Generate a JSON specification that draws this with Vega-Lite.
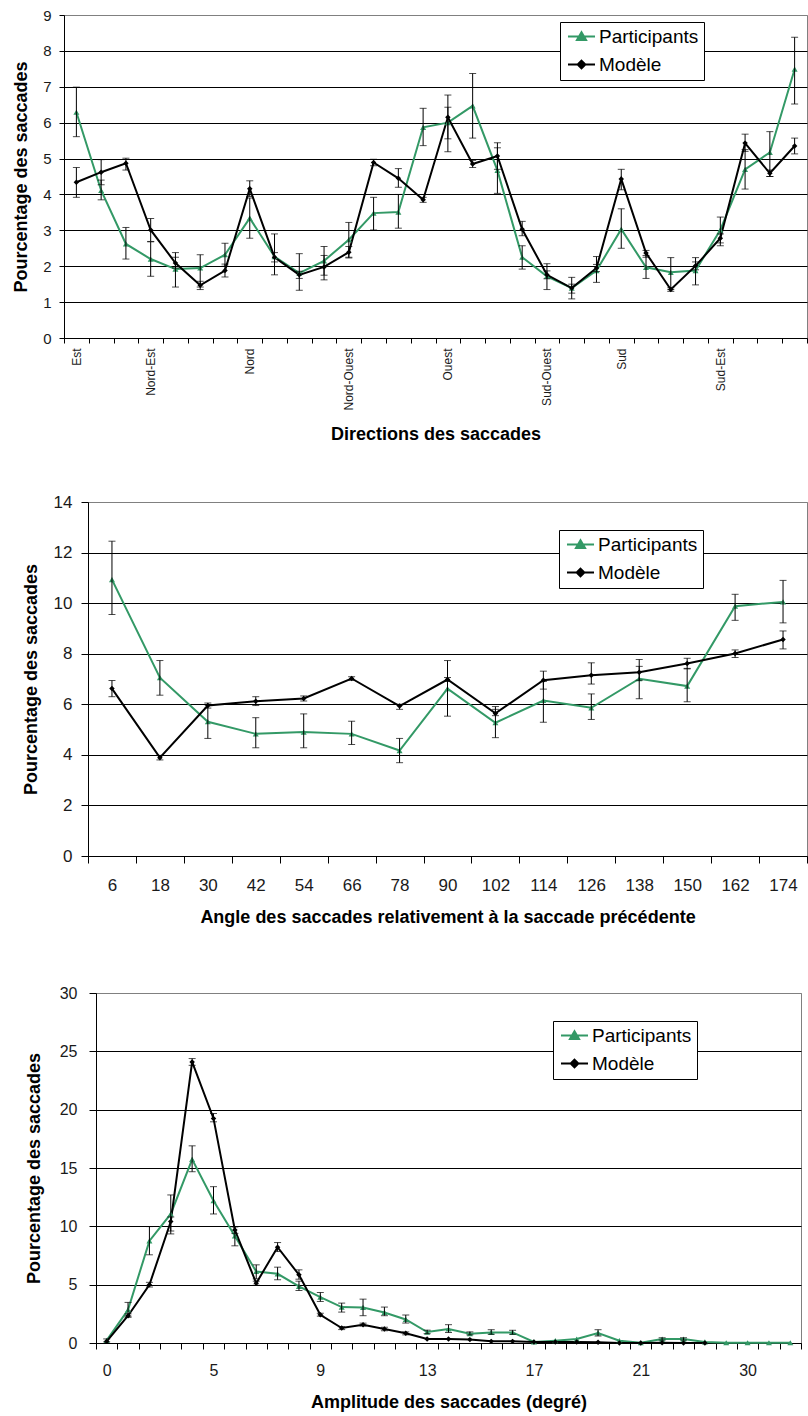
{
  "$schema": "https://vega.github.io/schema/vega-lite/v6.json",
  "padding": {"left": 0, "top": 7, "right": 0, "bottom": 0},
  "config": {
    "font": "Liberation Sans",
    "view": {"stroke": "#808080", "strokeWidth": 1},
    "axis": {"domainColor": "black", "tickColor": "black", "gridColor": "black", "gridOpacity": 1, "labelColor": "#1a1a1a", "titleColor": "black", "titleFontWeight": "bold", "titleFontSize": 18, "labelFont": "Liberation Sans", "titleFont": "Liberation Sans"},
    "axisX": {"grid": false},
    "legend": {"padding": 5, "strokeColor": "black", "fillColor": "white", "labelFontSize": 19, "labelFont": "Liberation Sans", "labelColor": "black", "symbolSize": 196, "labelOffset": 15, "rowPadding": 8, "symbolStrokeWidth": 2, "symbolOpacity": 1},
    "line": {"strokeWidth": 2},
    "tick": {"thickness": 1}
  },
  "datasets": {
    "dir": [
      {"i":1,"serie":"Participants","v":6.29,"lo":5.61,"hi":6.99},
      {"i":2,"serie":"Participants","v":4.11,"lo":3.85,"hi":4.40},
      {"i":3,"serie":"Participants","v":2.62,"lo":2.20,"hi":3.08},
      {"i":4,"serie":"Participants","v":2.20,"lo":1.72,"hi":2.68},
      {"i":5,"serie":"Participants","v":1.92,"lo":1.42,"hi":2.38},
      {"i":6,"serie":"Participants","v":1.95,"lo":1.42,"hi":2.32},
      {"i":7,"serie":"Participants","v":2.32,"lo":2.00,"hi":2.64},
      {"i":8,"serie":"Participants","v":3.34,"lo":2.78,"hi":3.90},
      {"i":9,"serie":"Participants","v":2.27,"lo":1.76,"hi":2.90},
      {"i":10,"serie":"Participants","v":1.81,"lo":1.33,"hi":2.35},
      {"i":11,"serie":"Participants","v":2.15,"lo":1.75,"hi":2.55},
      {"i":12,"serie":"Participants","v":2.74,"lo":2.25,"hi":3.22},
      {"i":13,"serie":"Participants","v":3.48,"lo":3.01,"hi":3.92},
      {"i":14,"serie":"Participants","v":3.51,"lo":3.06,"hi":4.00},
      {"i":15,"serie":"Participants","v":5.87,"lo":5.36,"hi":6.40},
      {"i":16,"serie":"Participants","v":6.00,"lo":5.19,"hi":6.43},
      {"i":17,"serie":"Participants","v":6.47,"lo":5.57,"hi":7.37},
      {"i":18,"serie":"Participants","v":4.67,"lo":4.03,"hi":5.30},
      {"i":19,"serie":"Participants","v":2.25,"lo":1.92,"hi":2.57},
      {"i":20,"serie":"Participants","v":1.72,"lo":1.35,"hi":2.07},
      {"i":21,"serie":"Participants","v":1.39,"lo":1.09,"hi":1.69},
      {"i":22,"serie":"Participants","v":1.88,"lo":1.55,"hi":2.27},
      {"i":23,"serie":"Participants","v":3.03,"lo":2.50,"hi":3.60},
      {"i":24,"serie":"Participants","v":1.97,"lo":1.66,"hi":2.30},
      {"i":25,"serie":"Participants","v":1.83,"lo":1.35,"hi":2.24},
      {"i":26,"serie":"Participants","v":1.88,"lo":1.48,"hi":2.24},
      {"i":27,"serie":"Participants","v":3.01,"lo":2.57,"hi":3.37},
      {"i":28,"serie":"Participants","v":4.70,"lo":4.15,"hi":5.25},
      {"i":29,"serie":"Participants","v":5.17,"lo":4.50,"hi":5.75},
      {"i":30,"serie":"Participants","v":7.49,"lo":6.52,"hi":8.38},
      {"i":1,"serie":"Modèle","v":4.34,"lo":3.92,"hi":4.75},
      {"i":2,"serie":"Modèle","v":4.62,"lo":4.27,"hi":4.97},
      {"i":3,"serie":"Modèle","v":4.87,"lo":4.68,"hi":5.01},
      {"i":4,"serie":"Modèle","v":3.01,"lo":2.69,"hi":3.33},
      {"i":5,"serie":"Modèle","v":2.09,"lo":1.95,"hi":2.25},
      {"i":6,"serie":"Modèle","v":1.47,"lo":1.35,"hi":1.58},
      {"i":7,"serie":"Modèle","v":1.88,"lo":1.70,"hi":2.06},
      {"i":8,"serie":"Modèle","v":4.16,"lo":3.94,"hi":4.38},
      {"i":9,"serie":"Modèle","v":2.25,"lo":2.12,"hi":2.38},
      {"i":10,"serie":"Modèle","v":1.76,"lo":1.66,"hi":1.86},
      {"i":11,"serie":"Modèle","v":1.98,"lo":1.62,"hi":2.30},
      {"i":12,"serie":"Modèle","v":2.39,"lo":2.23,"hi":2.55},
      {"i":13,"serie":"Modèle","v":4.89,"lo":4.80,"hi":4.98},
      {"i":14,"serie":"Modèle","v":4.45,"lo":4.20,"hi":4.72},
      {"i":15,"serie":"Modèle","v":3.85,"lo":3.78,"hi":3.92},
      {"i":16,"serie":"Modèle","v":6.15,"lo":5.55,"hi":6.77},
      {"i":17,"serie":"Modèle","v":4.85,"lo":4.75,"hi":4.95},
      {"i":18,"serie":"Modèle","v":5.07,"lo":4.70,"hi":5.44},
      {"i":19,"serie":"Modèle","v":3.03,"lo":2.85,"hi":3.25},
      {"i":20,"serie":"Modèle","v":1.76,"lo":1.65,"hi":1.87},
      {"i":21,"serie":"Modèle","v":1.39,"lo":1.25,"hi":1.50},
      {"i":22,"serie":"Modèle","v":1.95,"lo":1.85,"hi":2.05},
      {"i":23,"serie":"Modèle","v":4.43,"lo":4.13,"hi":4.70},
      {"i":24,"serie":"Modèle","v":2.37,"lo":2.25,"hi":2.44},
      {"i":25,"serie":"Modèle","v":1.35,"lo":1.30,"hi":1.40},
      {"i":26,"serie":"Modèle","v":2.01,"lo":1.90,"hi":2.12},
      {"i":27,"serie":"Modèle","v":2.78,"lo":2.65,"hi":2.90},
      {"i":28,"serie":"Modèle","v":5.43,"lo":5.20,"hi":5.68},
      {"i":29,"serie":"Modèle","v":4.59,"lo":4.50,"hi":4.68},
      {"i":30,"serie":"Modèle","v":5.35,"lo":5.13,"hi":5.57}
    ],
    "angle": [
      {"a":6,"serie":"Participants","v":10.93,"lo":9.55,"hi":12.45},
      {"a":18,"serie":"Participants","v":7.05,"lo":6.36,"hi":7.73},
      {"a":30,"serie":"Participants","v":5.31,"lo":4.65,"hi":5.98},
      {"a":42,"serie":"Participants","v":4.83,"lo":4.28,"hi":5.47},
      {"a":54,"serie":"Participants","v":4.90,"lo":4.28,"hi":5.62},
      {"a":66,"serie":"Participants","v":4.83,"lo":4.41,"hi":5.33},
      {"a":78,"serie":"Participants","v":4.17,"lo":3.69,"hi":4.65},
      {"a":90,"serie":"Participants","v":6.62,"lo":5.53,"hi":7.73},
      {"a":102,"serie":"Participants","v":5.27,"lo":4.68,"hi":5.80},
      {"a":114,"serie":"Participants","v":6.15,"lo":5.29,"hi":6.90},
      {"a":126,"serie":"Participants","v":5.86,"lo":5.40,"hi":6.41},
      {"a":138,"serie":"Participants","v":7.01,"lo":6.22,"hi":7.50},
      {"a":150,"serie":"Participants","v":6.72,"lo":6.10,"hi":7.42},
      {"a":162,"serie":"Participants","v":9.88,"lo":9.32,"hi":10.35},
      {"a":174,"serie":"Participants","v":10.05,"lo":9.22,"hi":10.90},
      {"a":6,"serie":"Modèle","v":6.62,"lo":6.30,"hi":6.94},
      {"a":18,"serie":"Modèle","v":3.89,"lo":3.80,"hi":3.98},
      {"a":30,"serie":"Modèle","v":5.95,"lo":5.85,"hi":6.05},
      {"a":42,"serie":"Modèle","v":6.12,"lo":5.95,"hi":6.30},
      {"a":54,"serie":"Modèle","v":6.23,"lo":6.13,"hi":6.33},
      {"a":66,"serie":"Modèle","v":7.02,"lo":6.95,"hi":7.09},
      {"a":78,"serie":"Modèle","v":5.93,"lo":5.80,"hi":6.00},
      {"a":90,"serie":"Modèle","v":6.98,"lo":6.90,"hi":7.06},
      {"a":102,"serie":"Modèle","v":5.64,"lo":5.55,"hi":5.91},
      {"a":114,"serie":"Modèle","v":6.95,"lo":6.60,"hi":7.31},
      {"a":126,"serie":"Modèle","v":7.15,"lo":6.80,"hi":7.64},
      {"a":138,"serie":"Modèle","v":7.27,"lo":6.95,"hi":7.77},
      {"a":150,"serie":"Modèle","v":7.61,"lo":7.40,"hi":7.82},
      {"a":162,"serie":"Modèle","v":8.01,"lo":7.85,"hi":8.15},
      {"a":174,"serie":"Modèle","v":8.56,"lo":8.19,"hi":8.90}
    ],
    "amp": [
      {"i":0,"serie":"Participants","v":0.23,"lo":0.10,"hi":0.35},
      {"i":1,"serie":"Participants","v":2.85,"lo":2.30,"hi":3.48},
      {"i":2,"serie":"Participants","v":8.75,"lo":7.56,"hi":9.98},
      {"i":3,"serie":"Participants","v":11.06,"lo":9.60,"hi":12.69},
      {"i":4,"serie":"Participants","v":15.74,"lo":14.68,"hi":16.90},
      {"i":5,"serie":"Participants","v":12.20,"lo":11.06,"hi":13.40},
      {"i":6,"serie":"Participants","v":9.18,"lo":8.33,"hi":9.98},
      {"i":7,"serie":"Participants","v":6.13,"lo":5.50,"hi":6.70},
      {"i":8,"serie":"Participants","v":5.93,"lo":5.42,"hi":6.50},
      {"i":9,"serie":"Participants","v":4.85,"lo":4.50,"hi":5.30},
      {"i":10,"serie":"Participants","v":3.94,"lo":3.56,"hi":4.33},
      {"i":11,"serie":"Participants","v":3.08,"lo":2.65,"hi":3.42},
      {"i":12,"serie":"Participants","v":3.05,"lo":2.34,"hi":3.76},
      {"i":13,"serie":"Participants","v":2.62,"lo":2.34,"hi":3.08},
      {"i":14,"serie":"Participants","v":2.02,"lo":1.71,"hi":2.40},
      {"i":15,"serie":"Participants","v":0.94,"lo":0.80,"hi":1.10},
      {"i":16,"serie":"Participants","v":1.20,"lo":0.90,"hi":1.57},
      {"i":17,"serie":"Participants","v":0.80,"lo":0.70,"hi":0.95},
      {"i":18,"serie":"Participants","v":0.91,"lo":0.75,"hi":1.14},
      {"i":19,"serie":"Participants","v":0.91,"lo":0.75,"hi":1.09},
      {"i":20,"serie":"Participants","v":0.09},
      {"i":21,"serie":"Participants","v":0.20},
      {"i":22,"serie":"Participants","v":0.34},
      {"i":23,"serie":"Participants","v":0.86,"lo":0.60,"hi":1.14},
      {"i":24,"serie":"Participants","v":0.20},
      {"i":25,"serie":"Participants","v":0.02},
      {"i":26,"serie":"Participants","v":0.34,"lo":0.25,"hi":0.45},
      {"i":27,"serie":"Participants","v":0.34,"lo":0.25,"hi":0.45},
      {"i":28,"serie":"Participants","v":0.09},
      {"i":29,"serie":"Participants","v":0.02},
      {"i":30,"serie":"Participants","v":0.02},
      {"i":31,"serie":"Participants","v":0.02},
      {"i":32,"serie":"Participants","v":0.02},
      {"i":0,"serie":"Modèle","v":0.14},
      {"i":1,"serie":"Modèle","v":2.34,"lo":2.20,"hi":2.50},
      {"i":2,"serie":"Modèle","v":4.99,"lo":4.80,"hi":5.20},
      {"i":3,"serie":"Modèle","v":10.41,"lo":9.35,"hi":10.80},
      {"i":4,"serie":"Modèle","v":24.09,"lo":23.80,"hi":24.38},
      {"i":5,"serie":"Modèle","v":19.25,"lo":18.96,"hi":19.67},
      {"i":6,"serie":"Modèle","v":9.69,"lo":9.40,"hi":9.95},
      {"i":7,"serie":"Modèle","v":5.13,"lo":4.95,"hi":5.30},
      {"i":8,"serie":"Modèle","v":8.21,"lo":7.84,"hi":8.61},
      {"i":9,"serie":"Modèle","v":5.85,"lo":5.47,"hi":6.27},
      {"i":10,"serie":"Modèle","v":2.42,"lo":2.30,"hi":2.55},
      {"i":11,"serie":"Modèle","v":1.28,"lo":1.15,"hi":1.40},
      {"i":12,"serie":"Modèle","v":1.57,"lo":1.45,"hi":1.70},
      {"i":13,"serie":"Modèle","v":1.20,"lo":1.05,"hi":1.35},
      {"i":14,"serie":"Modèle","v":0.83,"lo":0.70,"hi":0.95},
      {"i":15,"serie":"Modèle","v":0.34},
      {"i":16,"serie":"Modèle","v":0.34},
      {"i":17,"serie":"Modèle","v":0.29},
      {"i":18,"serie":"Modèle","v":0.14},
      {"i":19,"serie":"Modèle","v":0.14},
      {"i":20,"serie":"Modèle","v":0.09},
      {"i":21,"serie":"Modèle","v":0.09},
      {"i":22,"serie":"Modèle","v":0.09},
      {"i":23,"serie":"Modèle","v":0.06},
      {"i":24,"serie":"Modèle","v":0.0},
      {"i":25,"serie":"Modèle","v":0.0},
      {"i":26,"serie":"Modèle","v":0.03},
      {"i":27,"serie":"Modèle","v":0.0},
      {"i":28,"serie":"Modèle","v":0.0}
    ]
  },
  "resolve": {"scale": {"color": "independent", "shape": "independent", "stroke": "independent"}, "legend": {"color": "independent", "shape": "independent", "stroke": "independent"}},
  "vconcat": [
    {
      "resolve": {"scale": {"color": "independent", "shape": "independent", "stroke": "independent"}, "legend": {"color": "independent", "shape": "independent", "stroke": "independent"}},
      "vconcat": [
        {
          "resolve": {"scale": {"color": "independent", "shape": "independent", "stroke": "independent"}, "legend": {"color": "independent", "shape": "independent", "stroke": "independent"}},
          "hconcat": [
            {"width": 12, "height": 1, "view": {"stroke": null}, "data": {"values": []}, "mark": "point"},
            {
              "width": 743, "height": 323,
              "data": {"name": "dir"},
              "encoding": {
                "x": {"field": "i", "type": "ordinal", "title": "Directions des saccades",
                  "scale": {"type": "band", "paddingInner": 0, "paddingOuter": 0},
                  "axis": {"labelAngle": 270, "labelFontSize": 12, "labelPadding": 5, "tickBand": "extent", "tickSize": 5, "titlePadding": 15,
                    "labelExpr": "datum.value == 1 ? 'Est' : datum.value == 4 ? 'Nord-Est' : datum.value == 8 ? 'Nord' : datum.value == 12 ? 'Nord-Ouest' : datum.value == 16 ? 'Ouest' : datum.value == 20 ? 'Sud-Ouest' : datum.value == 23 ? 'Sud' : datum.value == 27 ? 'Sud-Est' : ''"}},
                "y": {"field": "v", "type": "quantitative", "title": "Pourcentage des saccades", "scale": {"domain": [0, 9], "nice": false},
                  "axis": {"values": [0,1,2,3,4,5,6,7,8,9], "tickCount": 10, "tickSize": 5, "labelPadding": 8, "titlePadding": 12, "labelFontSize": 15, "gridColor": {"condition": {"test": "datum.value == 9", "value": "#808080"}, "value": "black"}}}
              },
              "layer": [
                {"transform": [{"filter": "datum.serie == 'Participants'"}], "mark": {"type": "line", "color": "#339966", "strokeWidth": 2}, "encoding": {}},
                {"transform": [{"filter": "datum.serie == 'Modèle'"}], "mark": {"type": "line", "color": "#000000", "strokeWidth": 2}, "encoding": {}},
                {"transform": [{"filter": "datum.serie == 'Participants'"}], "mark": {"type": "point", "shape": "triangle-up", "filled": true, "color": "#339966", "opacity": 1, "size": 36}},
                {"transform": [{"filter": "datum.serie == 'Modèle'"}], "mark": {"type": "point", "shape": "diamond", "filled": true, "color": "#000000", "opacity": 1, "size": 30}},
                {
                  "transform": [{"filter": "isValid(datum.lo)"}],
                  "mark": {"type": "rule", "color": "black", "strokeWidth": 1},
                  "encoding": {"y": {"field": "lo", "type": "quantitative", "title": "Pourcentage des saccades", "scale": {"domain": [0, 9], "nice": false},
                    "axis": {"values": [0,1,2,3,4,5,6,7,8,9], "tickCount": 10, "tickSize": 5, "labelPadding": 8, "titlePadding": 12, "labelFontSize": 15, "gridColor": {"condition": {"test": "datum.value == 9", "value": "#808080"}, "value": "black"}}},
                    "y2": {"field": "hi"}}
                },
                {
                  "transform": [{"filter": "isValid(datum.lo)"}],
                  "mark": {"type": "tick", "color": "black", "size": 7, "thickness": 1},
                  "encoding": {"y": {"field": "lo", "type": "quantitative", "title": "Pourcentage des saccades", "scale": {"domain": [0, 9], "nice": false},
                    "axis": {"values": [0,1,2,3,4,5,6,7,8,9], "tickCount": 10, "tickSize": 5, "labelPadding": 8, "titlePadding": 12, "labelFontSize": 15, "gridColor": {"condition": {"test": "datum.value == 9", "value": "#808080"}, "value": "black"}}}}
                },
                {
                  "transform": [{"filter": "isValid(datum.lo)"}],
                  "mark": {"type": "tick", "color": "black", "size": 7, "thickness": 1},
                  "encoding": {"y": {"field": "hi", "type": "quantitative", "title": "Pourcentage des saccades", "scale": {"domain": [0, 9], "nice": false},
                    "axis": {"values": [0,1,2,3,4,5,6,7,8,9], "tickCount": 10, "tickSize": 5, "labelPadding": 8, "titlePadding": 12, "labelFontSize": 15, "gridColor": {"condition": {"test": "datum.value == 9", "value": "#808080"}, "value": "black"}}}}
                },
                {
                  "transform": [{"filter": "false"}],
                  "mark": {"type": "point", "filled": true},
                  "encoding": {
                    "color": {"field": "serie", "type": "nominal", "scale": {"domain": ["Participants", "Modèle"], "range": ["#339966", "#000000"]},
                      "legend": {"title": null, "orient": "none", "legendX": 496, "legendY": 7}},
                    "stroke": {"field": "serie", "type": "nominal", "scale": {"domain": ["Participants", "Modèle"], "range": ["#339966", "#000000"]},
                      "legend": {"title": null, "orient": "none", "legendX": 496, "legendY": 7}},
                    "shape": {"field": "serie", "type": "nominal", "scale": {"domain": ["Participants", "Modèle"], "range": ["M-0.93,0L2.93,0M1,-0.62L1.65,0.5L0.35,0.5Z", "M-0.93,0L2.93,0M1,-0.55L1.55,0L1,0.55L0.45,0Z"]},
                      "legend": {"title": null, "orient": "none", "legendX": 496, "legendY": 7}}
                  }
                }
              ]
            }
          ],
          "spacing": 0
        },
        {
          "resolve": {"scale": {"color": "independent", "shape": "independent", "stroke": "independent"}, "legend": {"color": "independent", "shape": "independent", "stroke": "independent"}},
          "hconcat": [
            {"width": 21, "height": 1, "view": {"stroke": null}, "data": {"values": []}, "mark": "point"},
            {
              "width": 719, "height": 354,
              "data": {"name": "angle"},
              "encoding": {
                "x": {"field": "a", "type": "ordinal", "title": "Angle des saccades relativement à la saccade précédente",
                  "scale": {"type": "band", "paddingInner": 0, "paddingOuter": 0},
                  "axis": {"labelAngle": 0, "labelFontSize": 17, "labelPadding": 14, "tickBand": "extent", "tickSize": 7, "titlePadding": 15}},
                "y": {"field": "v", "type": "quantitative", "title": "Pourcentage des saccades", "scale": {"domain": [0, 14], "nice": false},
                  "axis": {"values": [0,2,4,6,8,10,12,14], "tickCount": 8, "tickSize": 7, "labelPadding": 9, "titlePadding": 13, "labelFontSize": 17, "gridColor": {"condition": {"test": "datum.value == 14", "value": "#808080"}, "value": "black"}}}
              },
              "layer": [
                {"transform": [{"filter": "datum.serie == 'Participants'"}], "mark": {"type": "line", "color": "#339966", "strokeWidth": 2}, "encoding": {}},
                {"transform": [{"filter": "datum.serie == 'Modèle'"}], "mark": {"type": "line", "color": "#000000", "strokeWidth": 2}, "encoding": {}},
                {"transform": [{"filter": "datum.serie == 'Participants'"}], "mark": {"type": "point", "shape": "triangle-up", "filled": true, "color": "#339966", "opacity": 1, "size": 36}},
                {"transform": [{"filter": "datum.serie == 'Modèle'"}], "mark": {"type": "point", "shape": "diamond", "filled": true, "color": "#000000", "opacity": 1, "size": 30}},
                {
                  "transform": [{"filter": "isValid(datum.lo)"}],
                  "mark": {"type": "rule", "color": "black", "strokeWidth": 1},
                  "encoding": {"y": {"field": "lo", "type": "quantitative", "title": "Pourcentage des saccades", "scale": {"domain": [0, 14], "nice": false},
                    "axis": {"values": [0,2,4,6,8,10,12,14], "tickCount": 8, "tickSize": 7, "labelPadding": 9, "titlePadding": 13, "labelFontSize": 17, "gridColor": {"condition": {"test": "datum.value == 14", "value": "#808080"}, "value": "black"}}},
                    "y2": {"field": "hi"}}
                },
                {
                  "transform": [{"filter": "isValid(datum.lo)"}],
                  "mark": {"type": "tick", "color": "black", "size": 7, "thickness": 1},
                  "encoding": {"y": {"field": "lo", "type": "quantitative", "title": "Pourcentage des saccades", "scale": {"domain": [0, 14], "nice": false},
                    "axis": {"values": [0,2,4,6,8,10,12,14], "tickCount": 8, "tickSize": 7, "labelPadding": 9, "titlePadding": 13, "labelFontSize": 17, "gridColor": {"condition": {"test": "datum.value == 14", "value": "#808080"}, "value": "black"}}}}
                },
                {
                  "transform": [{"filter": "isValid(datum.lo)"}],
                  "mark": {"type": "tick", "color": "black", "size": 7, "thickness": 1},
                  "encoding": {"y": {"field": "hi", "type": "quantitative", "title": "Pourcentage des saccades", "scale": {"domain": [0, 14], "nice": false},
                    "axis": {"values": [0,2,4,6,8,10,12,14], "tickCount": 8, "tickSize": 7, "labelPadding": 9, "titlePadding": 13, "labelFontSize": 17, "gridColor": {"condition": {"test": "datum.value == 14", "value": "#808080"}, "value": "black"}}}}
                },
                {
                  "transform": [{"filter": "false"}],
                  "mark": {"type": "point", "filled": true},
                  "encoding": {
                    "color": {"field": "serie", "type": "nominal", "scale": {"domain": ["Participants", "Modèle"], "range": ["#339966", "#000000"]},
                      "legend": {"title": null, "orient": "none", "legendX": 471, "legendY": 28}},
                    "stroke": {"field": "serie", "type": "nominal", "scale": {"domain": ["Participants", "Modèle"], "range": ["#339966", "#000000"]},
                      "legend": {"title": null, "orient": "none", "legendX": 471, "legendY": 28}},
                    "shape": {"field": "serie", "type": "nominal", "scale": {"domain": ["Participants", "Modèle"], "range": ["M-0.93,0L2.93,0M1,-0.62L1.65,0.5L0.35,0.5Z", "M-0.93,0L2.93,0M1,-0.55L1.55,0L1,0.55L0.45,0Z"]},
                      "legend": {"title": null, "orient": "none", "legendX": 471, "legendY": 28}}
                  }
                }
              ]
            }
          ],
          "spacing": 0
        }
      ],
      "spacing": 48
    },
    {
      "resolve": {"scale": {"color": "independent", "shape": "independent", "stroke": "independent"}, "legend": {"color": "independent", "shape": "independent", "stroke": "independent"}},
      "hconcat": [
        {"width": 24, "height": 1, "view": {"stroke": null}, "data": {"values": []}, "mark": "point"},
        {
          "width": 705, "height": 350,
          "data": {"name": "amp"},
          "encoding": {
            "x": {"field": "i", "type": "ordinal", "title": "Amplitude des saccades (degré)",
              "scale": {"type": "band", "paddingInner": 0, "paddingOuter": 0},
              "axis": {"labelAngle": 0, "labelFontSize": 16, "labelPadding": 13, "tickBand": "extent", "tickSize": 6, "titlePadding": 15,
                "labelExpr": "datum.value == 0 ? '0' : datum.value == 5 ? '5' : datum.value == 10 ? '9' : datum.value == 15 ? '13' : datum.value == 20 ? '17' : datum.value == 25 ? '21' : datum.value == 30 ? '30' : ''"}},
            "y": {"field": "v", "type": "quantitative", "title": "Pourcentage des saccades", "scale": {"domain": [0, 30], "nice": false},
              "axis": {"values": [0,5,10,15,20,25,30], "tickCount": 7, "tickSize": 7, "labelPadding": 12, "titlePadding": 16, "labelFontSize": 16, "gridColor": {"condition": {"test": "datum.value == 30", "value": "#808080"}, "value": "black"}}}
          },
          "layer": [
            {"transform": [{"filter": "datum.serie == 'Participants'"}], "mark": {"type": "line", "color": "#339966", "strokeWidth": 2}, "encoding": {}},
            {"transform": [{"filter": "datum.serie == 'Modèle'"}], "mark": {"type": "line", "color": "#000000", "strokeWidth": 2}, "encoding": {}},
            {"transform": [{"filter": "datum.serie == 'Participants'"}], "mark": {"type": "point", "shape": "triangle-up", "filled": true, "color": "#339966", "opacity": 1, "size": 36}},
            {"transform": [{"filter": "datum.serie == 'Modèle'"}], "mark": {"type": "point", "shape": "diamond", "filled": true, "color": "#000000", "opacity": 1, "size": 30}},
            {
              "transform": [{"filter": "isValid(datum.lo)"}],
              "mark": {"type": "rule", "color": "black", "strokeWidth": 1},
              "encoding": {"y": {"field": "lo", "type": "quantitative", "title": "Pourcentage des saccades", "scale": {"domain": [0, 30], "nice": false},
                "axis": {"values": [0,5,10,15,20,25,30], "tickCount": 7, "tickSize": 7, "labelPadding": 12, "titlePadding": 16, "labelFontSize": 16, "gridColor": {"condition": {"test": "datum.value == 30", "value": "#808080"}, "value": "black"}}},
                "y2": {"field": "hi"}}
            },
            {
              "transform": [{"filter": "isValid(datum.lo)"}],
              "mark": {"type": "tick", "color": "black", "size": 7, "thickness": 1},
              "encoding": {"y": {"field": "lo", "type": "quantitative", "title": "Pourcentage des saccades", "scale": {"domain": [0, 30], "nice": false},
                "axis": {"values": [0,5,10,15,20,25,30], "tickCount": 7, "tickSize": 7, "labelPadding": 12, "titlePadding": 16, "labelFontSize": 16, "gridColor": {"condition": {"test": "datum.value == 30", "value": "#808080"}, "value": "black"}}}}
            },
            {
              "transform": [{"filter": "isValid(datum.lo)"}],
              "mark": {"type": "tick", "color": "black", "size": 7, "thickness": 1},
              "encoding": {"y": {"field": "hi", "type": "quantitative", "title": "Pourcentage des saccades", "scale": {"domain": [0, 30], "nice": false},
                "axis": {"values": [0,5,10,15,20,25,30], "tickCount": 7, "tickSize": 7, "labelPadding": 12, "titlePadding": 16, "labelFontSize": 16, "gridColor": {"condition": {"test": "datum.value == 30", "value": "#808080"}, "value": "black"}}}}
            },
            {
              "transform": [{"filter": "false"}],
              "mark": {"type": "point", "filled": true},
              "encoding": {
                "color": {"field": "serie", "type": "nominal", "scale": {"domain": ["Participants", "Modèle"], "range": ["#339966", "#000000"]},
                  "legend": {"title": null, "orient": "none", "legendX": 457, "legendY": 28}},
                "stroke": {"field": "serie", "type": "nominal", "scale": {"domain": ["Participants", "Modèle"], "range": ["#339966", "#000000"]},
                  "legend": {"title": null, "orient": "none", "legendX": 457, "legendY": 28}},
                "shape": {"field": "serie", "type": "nominal", "scale": {"domain": ["Participants", "Modèle"], "range": ["M-0.93,0L2.93,0M1,-0.62L1.65,0.5L0.35,0.5Z", "M-0.93,0L2.93,0M1,-0.55L1.55,0L1,0.55L0.45,0Z"]},
                  "legend": {"title": null, "orient": "none", "legendX": 457, "legendY": 28}}
              }
            }
          ]
        }
      ],
      "spacing": 0
    }
  ],
  "spacing": 57
}
